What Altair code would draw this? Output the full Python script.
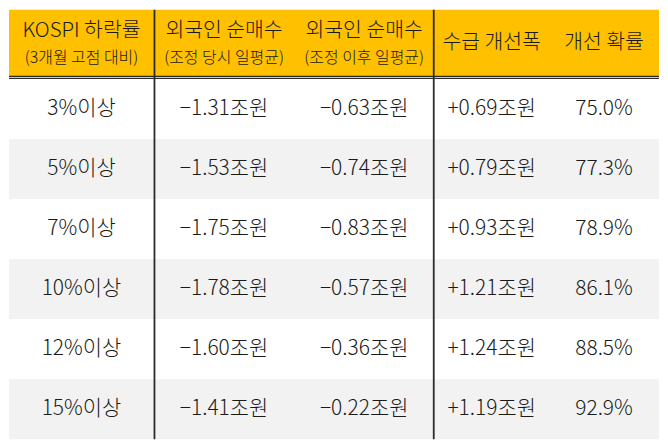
import altair as alt
import pandas as pd

# ---- data ----
drop_labels = ["3%이상", "5%이상", "7%이상", "10%이상", "12%이상", "15%이상"]
net_buy_during = [-1.31, -1.53, -1.75, -1.78, -1.60, -1.41]
net_buy_after = [-0.63, -0.74, -0.83, -0.57, -0.36, -0.22]
improvement = [0.69, 0.79, 0.93, 1.21, 1.24, 1.19]
probability = [75.0, 77.3, 78.9, 86.1, 88.5, 92.9]

header_main = ["KOSPI 하락률", "외국인 순매수", "외국인 순매수", "수급 개선폭", "개선 확률"]
header_sub = ["(3개월 고점 대비)", "(조정 당시 일평균)", "(조정 이후 일평균)", "", ""]

# ---- layout (reference pixel space) ----
W, H = 668, 447
edges = [0, 149, 293, 437, 555, 668]
centers = [(edges[i] + edges[i + 1]) / 2 for i in range(5)]
head_h = 72
row_h = (H - head_h) / 6
FONT = "Noto Sans CJK KR"
YELLOW = "#FFC000"
GRAY = "#F2F2F2"
LINE = "#2b2b2b"
TXT = "#1a1a1a"

def fmt_signed(v):
    return ("+" if v > 0 else "−") + f"{abs(v):.2f}조원"

# backgrounds
bg = [{"x0": 0, "x1": W, "y0": 0, "y1": 70, "fill": YELLOW}]
for i in range(6):
    bg.append({"x0": 0, "x1": W, "y0": head_h + i * row_h, "y1": head_h + (i + 1) * row_h,
               "fill": "#FFFFFF" if i % 2 == 0 else GRAY})
bg_df = pd.DataFrame(bg)

# body cells
cells = []
for i in range(6):
    vals = [drop_labels[i], fmt_signed(net_buy_during[i]), fmt_signed(net_buy_after[i]),
            fmt_signed(improvement[i]), f"{probability[i]:.1f}%"]
    for j, t in enumerate(vals):
        cells.append({"x": centers[j], "y": head_h + (i + 0.5) * row_h, "t": t})
cells_df = pd.DataFrame(cells)

# header cells
hm, hs = [], []
for j in range(5):
    if header_sub[j]:
        hm.append({"x": centers[j], "y": 22, "t": header_main[j]})
        hs.append({"x": centers[j], "y": 50, "t": header_sub[j]})
    else:
        hm.append({"x": centers[j], "y": 35, "t": header_main[j]})
hm_df = pd.DataFrame(hm)
hs_df = pd.DataFrame(hs)

vlines_df = pd.DataFrame({"x": [149.5, 436.5], "y0": [0, 0], "y1": [H, H]})
hlines_df = pd.DataFrame({"y": [69.5, 71.5], "x0": [0, 0], "x1": [W, W]})

xs = alt.Scale(domain=[0, W], nice=False, zero=False)
ys = alt.Scale(domain=[0, H], nice=False, zero=False, reverse=True)

rects = alt.Chart(bg_df).mark_rect(stroke=None).encode(
    x=alt.X("x0:Q", scale=xs, axis=None), x2="x1:Q",
    y=alt.Y("y0:Q", scale=ys, axis=None), y2="y1:Q",
    fill=alt.Fill("fill:N", scale=None),
)

vlines = alt.Chart(vlines_df).mark_rule(color=LINE, strokeWidth=1.8).encode(
    x=alt.X("x:Q", scale=xs, axis=None),
    y=alt.Y("y0:Q", scale=ys, axis=None), y2="y1:Q",
)
hlines = alt.Chart(hlines_df).mark_rule(color=LINE, strokeWidth=1.2).encode(
    y=alt.Y("y:Q", scale=ys, axis=None),
    x=alt.X("x0:Q", scale=xs, axis=None), x2="x1:Q",
)

body = alt.Chart(cells_df).mark_text(font=FONT, fontSize=21, color=TXT, fontWeight=300,
                                     baseline="middle", align="center").encode(
    x=alt.X("x:Q", scale=xs, axis=None), y=alt.Y("y:Q", scale=ys, axis=None), text="t:N")

head_main = alt.Chart(hm_df).mark_text(font=FONT, fontSize=20.5, color=TXT, fontWeight=300,
                                       baseline="middle", align="center").encode(
    x=alt.X("x:Q", scale=xs, axis=None), y=alt.Y("y:Q", scale=ys, axis=None), text="t:N")

head_sub = alt.Chart(hs_df).mark_text(font=FONT, fontSize=16, color=TXT, fontWeight=300,
                                      baseline="middle", align="center").encode(
    x=alt.X("x:Q", scale=xs, axis=None), y=alt.Y("y:Q", scale=ys, axis=None), text="t:N")

chart = alt.layer(rects, hlines, vlines, body, head_main, head_sub).properties(
    width=652, height=431, padding=0
).configure_view(stroke=None)

chart.save("out.html", embed_options={"renderer": "svg", "actions": False})
